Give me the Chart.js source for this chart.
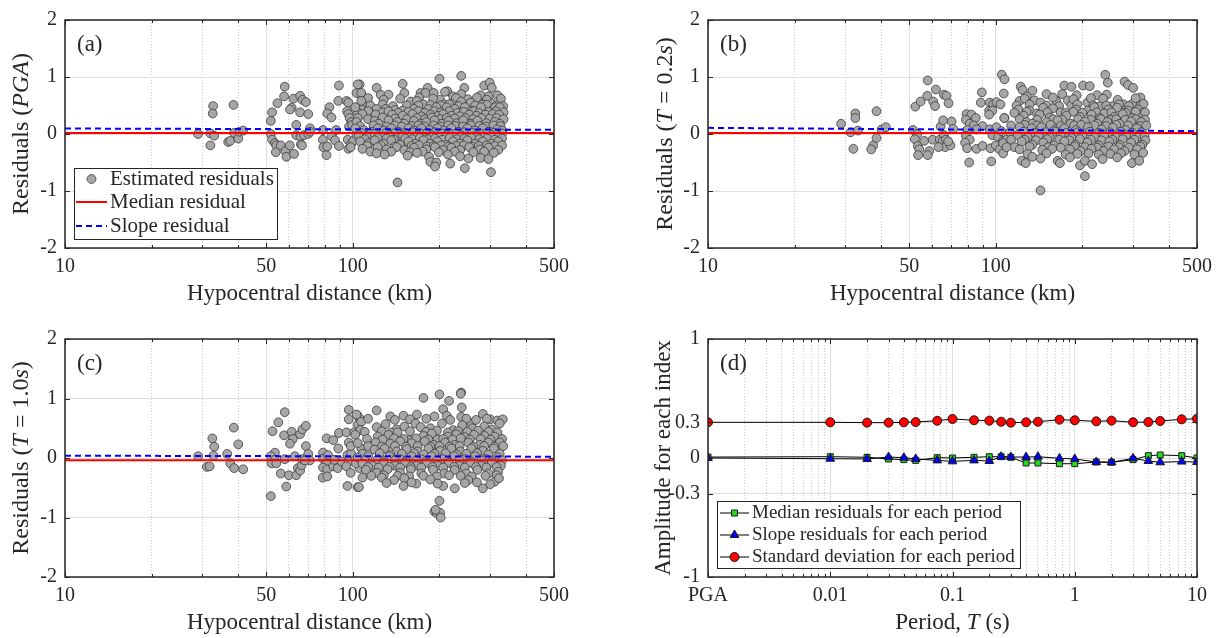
<!DOCTYPE html>
<html>
<head>
<meta charset="utf-8">
<title>Residuals vs hypocentral distance and period</title>
<script src="https://cdn.jsdelivr.net/npm/chart.js@4.4.1/dist/chart.umd.min.js"></script>
<style>
  body { margin: 0; background: #fff; }
  #fig { position: relative; width: 1222px; height: 638px; }
  #fig canvas { position: absolute; left: 0; top: 0; }
</style>
</head>
<body>
<div id="fig">
  <canvas id="panelA" width="1222" height="638"></canvas>
  <canvas id="panelB" width="1222" height="638"></canvas>
  <canvas id="panelC" width="1222" height="638"></canvas>
  <canvas id="panelD" width="1222" height="638"></canvas>
</div>
<script>
// ---- data ----
const distanceRange = [10, 500];
const distanceTicks = [10, 50, 100, 500];
const distanceTickLabels = ['10', '50', '100', '500'];
const distanceMinorTicks = [20, 30, 40, 60, 70, 80, 90, 200, 300, 400];
const residualTicks = [-2, -1, 0, 1, 2];
const residualTickLabels = ['-2', '-1', '0', '1', '2'];

// [hypocentral distance (km), residual]
const residualsPGA = [
  [29.0,0.00],[32.0,0.01],[32.7,0.49],[32.6,0.36],[33.0,-0.03],[32.0,-0.20],[36.9,-0.14],[37.5,-0.12],[38.5,0.51],[38.7,0.02],[40.0,-0.08],[40.4,0.04],[41.6,0.06],
  [58.0,0.83],[57.7,0.66],[54.7,0.54],[52.4,0.38],[51.9,0.23],[51.9,0.00],[52.4,-0.10],[53.6,-0.16],[54.2,-0.20],[54.0,-0.32],[56.2,-0.20],[58.3,-0.30],[58.8,-0.40],
  [60.4,-0.20],[62.5,-0.35],[62.2,0.62],[61.3,0.46],[60.5,0.43],[65.6,0.67],[66.8,0.60],[68.7,0.56],[65.6,0.38],[70.0,0.35],[63.6,0.16],[63.6,-0.02],[65.8,-0.05],
  [66.0,-0.18],[66.6,-0.20],[67.7,-0.02],[70.0,0.00],[71.0,0.10],[71.0,0.04],
  [78.8,0.07],[78.7,-0.10],[79.0,-0.23],[81.0,-0.37],[81.5,-0.22],[82.9,0.47],[81.5,0.36],[84.3,0.29],[84.6,-0.04],[86.7,-0.11],[89.5,0.85],[89.0,0.58],[89.5,-0.21],
  [87.5,0.07],[95.1,0.58],[96.5,0.55],[95.5,0.40],[96.5,0.35],[97.5,0.28],[98.9,0.21],[97.0,0.13],[99.5,0.16],[96.0,-0.10],[98.6,-0.17],[100.5,-0.12],[96.5,-0.26],
  [98.3,-0.23],[103.0,-0.02],[105.6,0.87],[107.0,0.71],[104.0,0.72],[107.5,0.52],[107.0,0.43],[104.0,0.38],
  [104,0.87],[121,0.81],[149,0.88],[182,0.81],[213,0.75],[244,0.81],[286,0.85],[299,0.90],[304,0.81],
  [103,0.72],[107,0.72],[125,0.69],[133,0.69],[151,0.72],[172,0.72],[179,0.72],[191,0.72],[209,0.74],[223,0.66],[238,0.70],[278,0.68],[296,0.66],[318,0.68],
  [113,0.63],[128,0.60],[146,0.62],[170,0.64],[201,0.60],[228,0.63],[251,0.61],[270,0.64],[292,0.60],[327,0.62],
  [107,0.58],[159,0.57],[167,0.58],[176,0.52],[190,0.62],[208,0.52],[220,0.53],[238,0.57],[257,0.55],[283,0.52],[305,0.53],
  [115,0.50],[127,0.52],[138,0.49],[154,0.50],[169,0.50],[186,0.51],[202,0.50],[216,0.52],[233,0.49],[266,0.50],[292,0.51],[316,0.50],[333,0.49],
  [102,0.47],[121,0.44],[130,0.44],[140,0.42],[149,0.41],[163,0.44],[183,0.44],[195,0.47],[212,0.47],[226,0.44],[245,0.47],[259,0.41],[279,0.47],[312,0.47],[324,0.47],
  [113,0.40],[127,0.38],[133,0.40],[144,0.37],[156,0.39],[169,0.40],[178,0.37],[192,0.40],[202,0.38],[216,0.40],[231,0.37],[243,0.39],[263,0.40],[274,0.37],[296,0.39],
  [314,0.40],[334,0.38],
  [108,0.35],[120,0.34],[137,0.34],[149,0.32],[161,0.35],[173,0.31],[186,0.34],[198,0.32],[206,0.35],[220,0.32],[236,0.31],[254,0.34],[269,0.32],[289,0.34],[306,0.35],[322,0.34],
  [104,0.28],[113,0.26],[127,0.29],[140,0.27],[154,0.26],[167,0.28],[178,0.26],[188,0.29],[202,0.26],[212,0.28],[226,0.27],[246,0.28],[262,0.26],[280,0.28],[299,0.27],
  [316,0.28],[334,0.26],
  [103,0.21],[119,0.23],[123,0.18],[133,0.24],[143,0.21],[151,0.18],[163,0.23],[172,0.18],[180,0.21],[192,0.24],[204,0.18],[215,0.23],[230,0.19],[242,0.24],[257,0.18],
  [271,0.23],[291,0.19],[311,0.21],[324,0.18],
  [106,0.14],[118,0.15],[131,0.13],[140,0.15],[148,0.13],[160,0.14],[169,0.15],[178,0.13],[191,0.15],[202,0.13],[214,0.15],[227,0.14],[241,0.13],[258,0.15],[275,0.14],
  [291,0.13],[308,0.15],[326,0.14],
  [102,0.10],[109,0.07],[116,0.04],[122,0.10],[128,0.06],[136,0.10],[144,0.04],[156,0.10],[163,0.06],[173,0.10],[185,0.07],[197,0.10],[207,0.06],[220,0.10],[233,0.04],
  [250,0.10],[265,0.06],[283,0.10],[299,0.04],[318,0.08],[331,0.06],
  [107,0.02],[115,0.01],[131,0.03],[139,0.01],[152,0.02],[162,0.03],[172,0.01],[181,0.02],[193,0.03],[204,0.01],[216,0.02],[229,0.01],[244,0.03],[260,0.02],[277,0.01],
  [294,0.03],[311,0.02],[330,0.01],
  [105,-0.02],[112,-0.04],[119,0.00],[125,-0.05],[134,-0.02],[141,-0.07],[149,-0.02],[158,-0.05],[168,-0.02],[177,-0.07],[188,-0.02],[199,-0.05],[212,-0.02],[225,-0.05],
  [238,-0.02],[252,-0.05],[269,-0.02],[286,-0.05],[304,-0.02],[322,-0.04],
  [110,-0.09],[122,-0.07],[131,-0.08],[139,-0.10],[152,-0.08],[161,-0.09],[171,-0.07],[182,-0.09],[193,-0.08],[205,-0.10],[217,-0.07],[230,-0.09],[244,-0.08],[258,-0.07],
  [275,-0.09],[293,-0.08],[311,-0.10],[330,-0.08],
  [106,-0.13],[114,-0.16],[119,-0.11],[128,-0.17],[136,-0.11],[146,-0.19],[156,-0.13],[165,-0.17],[176,-0.11],[186,-0.17],[197,-0.13],[210,-0.19],[223,-0.13],[236,-0.17],
  [250,-0.11],[266,-0.17],[283,-0.13],[303,-0.17],[320,-0.13],
  [112,-0.21],[125,-0.20],[140,-0.22],[160,-0.21],[170,-0.20],[181,-0.22],[191,-0.21],[203,-0.20],[215,-0.22],[229,-0.21],[243,-0.20],[259,-0.22],[274,-0.21],[292,-0.20],
  [312,-0.21],[330,-0.20],
  [108,-0.26],[122,-0.23],[131,-0.27],[142,-0.23],[151,-0.28],[163,-0.24],[180,-0.27],[193,-0.23],[206,-0.28],[220,-0.24],[236,-0.28],[254,-0.23],[276,-0.27],[296,-0.24],[320,-0.28],
  [115,-0.31],[136,-0.31],[158,-0.32],[175,-0.31],[199,-0.32],[226,-0.31],[262,-0.32],[286,-0.31],[309,-0.33],
  [121,-0.34],[129,-0.36],[167,-0.33],[184,-0.40],[186,-0.49],[195,-0.50],[214,-0.36],[236,-0.39],[252,-0.43],[278,-0.42],[296,-0.44],
  [200,0.97],[238,1.02],[143,-0.85],[302,-0.67],[245,-0.60],[193,-0.57],[218,-0.52],[155,-0.38]
];

const residualsT02 = [
  [29.0,0.18],[31.3,0.03],[32.5,0.36],[32.5,0.28],[32.0,-0.26],[33.2,0.06],[38.5,0.40],[37.5,-0.20],[36.9,-0.27],[38.5,-0.07],[40.1,0.08],[41.5,0.12],
  [52.5,0.48],[54.8,0.57],[58.0,0.94],[57.8,0.67],[61.9,0.78],[60.6,0.57],[61.5,0.49],[66.0,0.69],[67.4,0.67],[68.5,0.54],[51.6,0.07],[53.3,0.00],[52.3,-0.09],
  [53.6,-0.21],[54.2,-0.27],[53.7,-0.37],[56.4,-0.12],[58.7,-0.30],[58.0,-0.37],[60.3,-0.10],[64.3,0.13],[63.9,-0.10],[66.0,-0.02],[65.3,-0.13],[67.0,-0.10],
  [66.7,-0.23],[63.2,-0.23],[65.6,0.24],[70.2,0.22],[71.1,0.09],[69.6,-0.20],[68.3,-0.13],
  [89.4,0.73],[88.7,0.55],[95.3,0.55],[97.9,0.52],[100.5,0.56],[103.8,0.52],[106.6,0.71],[104.9,1.04],[107.2,0.96],[94.8,0.41],[97.3,0.41],[94.8,0.34],[107.2,0.28],
  [79.1,0.35],[82.3,0.34],[78.7,0.25],[81.2,0.18],[85.2,0.28],[83.9,0.15],[89.9,0.14],[79.5,0.07],[85.7,0.08],[78.7,-0.03],[81.2,-0.10],[78.2,-0.15],[79.5,-0.25],
  [85.7,-0.26],[89.9,-0.21],[80.8,-0.50],[95.3,0.08],[97.3,-0.02],[96.4,-0.48],[95.9,-0.25],[100,-0.20],[101.9,-0.05],[106,-0.12],[103.2,-0.27],[106,-0.34],
  [108.9,-0.10],[100.5,0.12],[104.5,0.05],
  [240,1.04],[245,0.90],[280,0.92],[288,0.86],[300,0.81],[173,0.85],[183,0.83],[201,0.85],[212,0.84],[122,0.83],[124,0.77],[134,0.76],[150,0.70],[170,0.70],[191,0.68],
  [225,0.68],[243,0.69],[318,0.64],[128,0.66],[136,0.59],[143,0.55],[121,0.58],[162,0.58],[178,0.59],[183,0.51],[208,0.55],[230,0.49],[255,0.49],[278,0.52],[298,0.53],
  [126,0.62],[158,0.64],[186,0.61],[214,0.63],[236,0.62],[265,0.60],[306,0.63],
  [118,0.50],[131,0.52],[150,0.50],[166,0.49],[192,0.52],[218,0.50],[242,0.50],[268,0.52],[290,0.49],[318,0.50],
  [326,0.53],[120,0.43],[131,0.41],[146,0.46],[158,0.45],[168,0.38],[190,0.43],[209,0.41],[220,0.47],[246,0.43],[264,0.46],[288,0.41],[312,0.43],[324,0.36],
  [116,0.37],[128,0.39],[139,0.36],[151,0.38],[175,0.37],[186,0.39],[200,0.37],[224,0.38],[238,0.36],[252,0.38],[283,0.37],[306,0.39],[330,0.38],
  [125,0.32],[142,0.34],[154,0.29],[176,0.32],[196,0.30],[215,0.34],[230,0.28],[258,0.30],[276,0.35],[298,0.28],[107,0.28],
  [121,0.26],[139,0.25],[158,0.26],[170,0.25],[193,0.26],[214,0.25],[232,0.26],[251,0.25],[262,0.26],[282,0.25],[306,0.26],[330,0.25],
  [128,0.21],[134,0.18],[150,0.21],[164,0.24],[182,0.18],[204,0.22],[225,0.18],[244,0.21],[269,0.18],[295,0.22],[320,0.21],
  [113,0.15],[126,0.16],[139,0.15],[155,0.16],[168,0.14],[187,0.15],[198,0.16],[220,0.15],[242,0.14],[262,0.16],[288,0.15],[318,0.14],[333,0.15],
  [121,0.12],[133,0.10],[144,0.12],[160,0.07],[173,0.10],[190,0.07],[209,0.12],[233,0.08],[255,0.11],[282,0.07],[309,0.10],
  [112,0.03],[125,0.04],[136,0.02],[148,0.03],[161,0.04],[176,0.02],[193,0.03],[212,0.04],[229,0.02],[249,0.03],[272,0.04],[298,0.02],[321,0.03],
  [119,-0.02],[129,-0.06],[141,-0.02],[154,-0.06],[168,-0.02],[183,-0.07],[200,-0.02],[220,-0.06],[238,-0.02],[261,-0.06],[284,-0.02],[312,-0.06],[329,-0.04],
  [113,-0.10],[126,-0.10],[138,-0.11],[151,-0.09],[166,-0.10],[180,-0.11],[196,-0.09],[214,-0.10],[233,-0.11],[254,-0.10],[276,-0.09],[303,-0.10],[331,-0.11],
  [106,-0.16],[123,-0.13],[134,-0.19],[146,-0.15],[159,-0.20],[173,-0.13],[189,-0.19],[208,-0.15],[228,-0.20],[248,-0.13],[270,-0.19],[295,-0.15],[323,-0.19],
  [116,-0.23],[131,-0.22],[152,-0.23],[168,-0.24],[188,-0.22],[204,-0.23],[225,-0.24],[247,-0.22],[268,-0.23],[290,-0.24],[318,-0.22],
  [109,-0.23],[121,-0.27],[145,-0.28],[157,-0.26],[181,-0.27],[197,-0.30],[215,-0.26],[237,-0.30],[258,-0.27],[280,-0.30],[310,-0.27],
  [129,-0.35],[150,-0.34],[175,-0.36],[192,-0.35],[210,-0.34],[228,-0.36],[250,-0.35],[272,-0.34],[303,-0.36],[325,-0.33],
  [134,-0.40],[143,-0.43],[123,-0.47],[127,-0.51],[164,-0.47],[167,-0.51],[181,-0.41],[196,-0.55],[204,-0.47],[216,-0.53],[235,-0.44],[264,-0.41],[297,-0.51],[315,-0.47],
  [204,-0.74],[143,-0.99]
];

const residualsT10 = [
  [29.0,0.03],[31.1,-0.15],[31.8,-0.14],[32.5,0.33],[33.0,0.19],[32.8,0.04],[36.6,0.07],[37.5,-0.09],[38.6,0.51],[38.7,-0.17],[40.0,0.23],[41.6,-0.19],
  [52.6,0.45],[55.1,0.60],[58.0,0.77],[57.7,0.38],[61.3,0.44],[61.9,0.32],[60.5,0.24],[65.6,0.40],[66.8,0.48],[68.7,0.54],[68.7,0.20],[53.6,0.09],[51.9,0.03],
  [53.6,-0.03],[52.2,-0.09],[54.2,-0.09],[51.9,-0.64],[56.2,-0.26],[58.7,-0.48],[60.0,-0.29],[58.0,-0.02],[62.9,0.03],[63.6,-0.29],[64.4,-0.17],[65.6,-0.21],
  [66.4,-0.12],[66.8,-0.02],[70.0,0.07],[70.9,-0.04],[68.1,-0.04],
  [78.8,0.09],[81.1,0.33],[85.5,0.30],[89.5,0.42],[95.1,0.43],[89.0,0.16],[78.8,-0.01],[82.0,0.05],[81.0,-0.09],[78.8,-0.16],[81.5,-0.19],[78.6,-0.33],[81.5,-0.31],
  [85.5,-0.14],[88.6,-0.17],[91.4,-0.06],[86.2,-0.03],[95.8,0.05],[98.6,0.08],[96.8,0.81],[96.8,0.65],[103.6,0.72],[105.4,0.67],[106.2,0.60],[104,0.56],[101,0.43],
  [96.8,0.26],[98.3,0.20],[107,0.16],[96.8,-0.06],[95,-0.14],[98.3,-0.25],[95.8,-0.47],[104,-0.49],[105.4,-0.17],[102.6,-0.09],[108,-0.03],
  [176,1.01],[200,1.07],[238,1.10],[237,1.08],[216,0.96],[121,0.80],[206,0.82],[239,0.85],[283,0.74],
  [103,0.73],[107,0.61],[106,0.47],[102,0.39],[135,0.70],[150,0.71],[167,0.73],[192,0.70],[212,0.71],[238,0.69],[258,0.58],[300,0.65],[318,0.63],
  [113,0.66],[140,0.64],[158,0.65],[180,0.66],[218,0.64],[248,0.66],[268,0.64],[292,0.66],[332,0.65],
  [121,0.52],[130,0.57],[142,0.48],[151,0.53],[165,0.58],[172,0.52],[186,0.50],[204,0.58],[223,0.47],[240,0.55],[260,0.50],[286,0.53],[304,0.48],[324,0.58],
  [110,0.44],[126,0.45],[136,0.43],[158,0.45],[180,0.44],[196,0.46],[214,0.43],[232,0.45],[250,0.44],[272,0.46],[296,0.44],[318,0.43],
  [122,0.36],[133,0.39],[143,0.43],[157,0.30],[176,0.37],[188,0.41],[197,0.31],[214,0.36],[229,0.40],[245,0.35],[264,0.39],[287,0.37],[311,0.36],
  [112,0.32],[127,0.31],[139,0.33],[150,0.32],[166,0.33],[183,0.31],[206,0.32],[222,0.31],[237,0.33],[255,0.31],[278,0.32],[301,0.31],[330,0.32],
  [104,0.25],[120,0.26],[135,0.24],[146,0.28],[160,0.25],[178,0.28],[191,0.22],[209,0.26],[226,0.22],[252,0.26],[276,0.22],[296,0.26],[324,0.26],
  [113,0.20],[126,0.19],[140,0.20],[153,0.19],[168,0.20],[186,0.19],[200,0.20],[217,0.19],[235,0.20],[262,0.19],[286,0.20],[311,0.19],[333,0.20],
  [119,0.14],[129,0.16],[142,0.11],[154,0.15],[168,0.11],[183,0.16],[201,0.12],[220,0.16],[236,0.11],[258,0.16],[283,0.12],[309,0.16],
  [108,0.07],[124,0.08],[135,0.06],[148,0.07],[163,0.08],[176,0.06],[192,0.07],[210,0.08],[229,0.06],[248,0.07],[270,0.08],[296,0.06],[324,0.07],
  [104,0.01],[113,0.03],[122,-0.02],[134,0.03],[146,-0.02],[160,0.03],[173,-0.02],[188,0.03],[206,-0.02],[225,0.03],[245,-0.02],[266,0.03],[291,-0.02],[318,0.01],
  [110,-0.04],[128,-0.05],[140,-0.04],[153,-0.05],[166,-0.04],[180,-0.05],[196,-0.04],[214,-0.05],[235,-0.04],[256,-0.05],[279,-0.04],[304,-0.05],[330,-0.04],
  [108,-0.09],[117,-0.13],[128,-0.08],[140,-0.13],[152,-0.08],[166,-0.13],[181,-0.08],[197,-0.13],[216,-0.08],[234,-0.13],[256,-0.08],[279,-0.13],[304,-0.08],[327,-0.13],
  [113,-0.15],[123,-0.16],[134,-0.15],[146,-0.16],[159,-0.15],[173,-0.16],[189,-0.15],[206,-0.16],[225,-0.15],[245,-0.16],[268,-0.15],[291,-0.16],[316,-0.15],
  [111,-0.20],[121,-0.25],[132,-0.19],[146,-0.25],[159,-0.19],[173,-0.26],[190,-0.20],[208,-0.26],[226,-0.20],[248,-0.26],[271,-0.20],[296,-0.26],[320,-0.23],
  [116,-0.30],[128,-0.29],[143,-0.30],[157,-0.31],[176,-0.30],[196,-0.31],[216,-0.29],[237,-0.30],[259,-0.31],[289,-0.30],[316,-0.29],
  [108,-0.33],[126,-0.33],[139,-0.37],[151,-0.34],[166,-0.43],[186,-0.36],[206,-0.47],[226,-0.51],[252,-0.37],[283,-0.51],[311,-0.40],[322,-0.34],
  [131,-0.42],[160,-0.41],[197,-0.43],[245,-0.42],[270,-0.41],[300,-0.44],
  [105,-0.49],[150,-0.47],
  [200,-0.72],[192,-0.90],[196,-0.93],[201,-0.92],[202,-1.00],[194,-0.87]
];

// fitted lines at the two ends of the distance range
const medianPGA = [0.017, 0.017];
const slopePGA = [0.096, 0.074];
const medianT02 = [0.017, 0.017];
const slopeT02 = [0.108, 0.050];
const medianT10 = [-0.039, -0.039];
const slopeT10 = [0.039, 0.022];

// panel (d): PGA is plotted at 0.001 s
const periods = [0.001, 0.01, 0.02, 0.03, 0.04, 0.05, 0.075, 0.1, 0.15, 0.2, 0.25, 0.3, 0.4, 0.5, 0.75, 1, 1.5, 2, 3, 4, 5, 7.5, 10];
const medianByPeriod = [0.008, 0.011, 0.006, -0.008, -0.014, -0.020, 0.003, 0.000, 0.006, 0.011, 0.011, 0.006, -0.042, -0.042, -0.048, -0.048, -0.034, -0.036, -0.014, 0.020, 0.025, 0.020, 0.000];
const slopeByPeriod = [0.000, -0.006, -0.008, 0.008, 0.003, -0.008, -0.020, -0.028, -0.020, -0.025, 0.011, 0.008, 0.008, 0.011, -0.003, -0.008, -0.034, -0.036, -0.003, -0.025, -0.036, -0.030, -0.034];
const sdByPeriod = [0.300, 0.300, 0.297, 0.297, 0.300, 0.302, 0.313, 0.328, 0.317, 0.314, 0.305, 0.297, 0.300, 0.305, 0.322, 0.317, 0.308, 0.314, 0.300, 0.302, 0.311, 0.325, 0.330];
const periodTicks = [0.001, 0.01, 0.1, 1, 10];
const periodTickLabels = ['PGA', '0.01', '0.1', '1', '10'];
const periodMinorTicks = [0.002, 0.003, 0.004, 0.005, 0.006, 0.007, 0.008, 0.009,
  0.02, 0.03, 0.04, 0.05, 0.06, 0.07, 0.08, 0.09, 0.2, 0.3, 0.4, 0.5, 0.6, 0.7, 0.8, 0.9,
  2, 3, 4, 5, 6, 7, 8, 9];
const amplitudeTicks = [-1, -0.3, 0, 0.3, 1];
const amplitudeTickLabels = ['-1', '-0.3', '0', '0.3', '1'];

// ---- drawing ----
const W = 1222, H = 638;
const ink = '#262626';
const serif = "'Liberation Serif', 'Times New Roman', serif";
const gridColor = '#dedede';

function richText(ctx, parts, size, x, y, vertical) {
  ctx.save();
  ctx.translate(x, y);
  if (vertical) ctx.rotate(-Math.PI / 2);
  const fontOf = p => (p[1] ? 'italic ' : '') + size + 'px ' + serif;
  let total = 0;
  parts.forEach(p => { ctx.font = fontOf(p); total += ctx.measureText(p[0]).width; });
  let cx = -total / 2;
  ctx.fillStyle = ink;
  ctx.textAlign = 'left';
  ctx.textBaseline = 'middle';
  parts.forEach(p => {
    ctx.font = fontOf(p);
    ctx.fillText(p[0], cx, 0);
    cx += ctx.measureText(p[0]).width;
  });
  ctx.restore();
}

function markerPath(ctx, style, x, y, r) {
  ctx.beginPath();
  if (style === 'rect') {
    const s = r * Math.SQRT1_2;
    ctx.rect(x - s, y - s, 2 * s, 2 * s);
  } else if (style === 'triangle') {
    for (let k = 0; k < 3; k++) {
      const a = k * 2 * Math.PI / 3;
      const px = x + Math.sin(a) * r, py = y - Math.cos(a) * r;
      if (k === 0) ctx.moveTo(px, py); else ctx.lineTo(px, py);
    }
    ctx.closePath();
  } else {
    ctx.arc(x, y, r, 0, Math.PI * 2);
  }
}

// box, inner tick marks, axis titles, panel letter and in-axes legend
function decor(cfg) {
  return {
    id: 'decor',
    afterDraw(chart) {
      const { ctx, chartArea: a } = chart;
      const xs = chart.scales.x, ys = chart.scales.y;
      ctx.save();
      ctx.strokeStyle = ink;
      ctx.lineWidth = 1;
      ctx.beginPath();
      const vTick = (v, len) => {
        const p = Math.round(xs.getPixelForValue(v)) + 0.5;
        ctx.moveTo(p, a.bottom); ctx.lineTo(p, a.bottom - len);
        ctx.moveTo(p, a.top); ctx.lineTo(p, a.top + len);
      };
      cfg.xMajor.forEach(v => vTick(v, 5));
      cfg.xMinor.forEach(v => vTick(v, 3));
      cfg.yMajor.forEach(v => {
        const p = Math.round(ys.getPixelForValue(v)) + 0.5;
        ctx.moveTo(a.left, p); ctx.lineTo(a.left + 5, p);
        ctx.moveTo(a.right, p); ctx.lineTo(a.right - 5, p);
      });
      ctx.stroke();
      ctx.lineWidth = 1.5;
      ctx.strokeRect(a.left, a.top, a.right - a.left, a.bottom - a.top);

      if (cfg.legend) {
        const L = cfg.legend;
        ctx.fillStyle = '#fff';
        ctx.fillRect(L.x0, L.y0, L.x1 - L.x0, L.y1 - L.y0);
        ctx.lineWidth = 1;
        ctx.strokeStyle = ink;
        ctx.strokeRect(L.x0 + 0.5, L.y0 + 0.5, L.x1 - L.x0, L.y1 - L.y0);
        L.rows.forEach(([idx, y]) => {
          const ds = chart.data.datasets[idx];
          const mid = (L.lineFrom + L.lineTo) / 2;
          if (ds.type === 'line') {
            ctx.save();
            ctx.beginPath();
            ctx.strokeStyle = ds.borderColor;
            ctx.lineWidth = ds.borderWidth;
            ctx.setLineDash(ds.borderDash || []);
            ctx.moveTo(L.lineFrom, y); ctx.lineTo(L.lineTo, y);
            ctx.stroke();
            ctx.restore();
          }
          if (ds.pointRadius > 0) {
            markerPath(ctx, ds.pointStyle || 'circle', mid, y, ds.pointRadius);
            ctx.fillStyle = ds.pointBackgroundColor || ds.backgroundColor;
            ctx.fill();
            ctx.strokeStyle = ds.pointBorderColor || ds.borderColor;
            ctx.lineWidth = ds.pointBorderWidth || ds.borderWidth;
            ctx.stroke();
          }
          ctx.fillStyle = ink;
          ctx.font = L.size + 'px ' + serif;
          ctx.textAlign = 'left';
          ctx.textBaseline = 'middle';
          ctx.fillText(ds.label, L.text, y);
        });
      }

      ctx.fillStyle = ink;
      ctx.font = '23px ' + serif;
      ctx.textAlign = 'left';
      ctx.textBaseline = 'middle';
      ctx.fillText(cfg.letter, a.left + 12, a.top + 25);
      richText(ctx, cfg.yTitle, cfg.yTitleSize || 23, cfg.yTitleX, (a.top + a.bottom) / 2, true);
      richText(ctx, cfg.xTitle, 23, (a.left + a.right) / 2, a.bottom + 46, false);
      ctx.restore();
    }
  };
}

function logAxis(min, max, ticks, labels) {
  return {
    type: 'logarithmic', min, max, position: 'bottom',
    afterFit: s => { s.height = 55; },
    afterBuildTicks: s => { s.ticks = ticks.map(v => ({ value: v })); },
    ticks: {
      autoSkip: false, maxRotation: 0, padding: 7, color: ink,
      font: { family: serif, size: 20 },
      callback: (v, i) => labels[i]
    },
    grid: { color: gridColor, drawTicks: false },
    border: { display: false }
  };
}

function minorAxis(min, max, ticks) {
  return {
    type: 'logarithmic', min, max, position: 'bottom',
    afterFit: s => { s.height = 0; },
    afterBuildTicks: s => { s.ticks = ticks.map(v => ({ value: v })); },
    ticks: { display: false },
    grid: { color: '#c8c8c8', drawTicks: false },
    border: { display: false, dash: [1, 2] }
  };
}

function linAxis(min, max, ticks, labels) {
  return {
    type: 'linear', min, max,
    afterFit: s => { s.width = 60; },
    afterBuildTicks: s => { s.ticks = ticks.map(v => ({ value: v })); },
    ticks: { padding: 8, color: ink, font: { family: serif, size: 20 }, callback: (v, i) => labels[i] },
    grid: { color: gridColor, drawTicks: false },
    border: { display: false }
  };
}

function layoutFor(p) {
  return { padding: { left: p.left - 60, top: p.top, right: W - p.right, bottom: H - p.bottom - 55 } };
}

const xy = (xs, ys) => xs.map((x, i) => ({ x, y: ys[i] }));
const distanceTitle = [['Hypocentral distance (km)', false]];

function residualPanel(id, plot, points, median, slope, cfg) {
  new Chart(document.getElementById(id), {
    type: 'scatter',
    data: {
      datasets: [
        { type: 'line', label: 'Median residual', data: xy(distanceRange, median),
          borderColor: '#ff0000', borderWidth: 2, pointRadius: 0, order: 1 },
        { type: 'line', label: 'Slope residual', data: xy(distanceRange, slope),
          borderColor: '#0000ff', borderWidth: 2, borderDash: [6, 4], pointRadius: 0, order: 0 },
        { type: 'scatter', label: 'Estimated residuals', data: points.map(p => ({ x: p[0], y: p[1] })),
          backgroundColor: '#a6a6a6', borderColor: '#3a3a3a', borderWidth: 0.8, pointRadius: 4.4, order: 2 }
      ]
    },
    options: {
      responsive: false,
      animation: false,
      events: [],
      layout: layoutFor(plot),
      scales: {
        x: logAxis(distanceRange[0], distanceRange[1], distanceTicks, distanceTickLabels),
        xMinor: minorAxis(distanceRange[0], distanceRange[1], distanceMinorTicks),
        y: linAxis(-2, 2, residualTicks, residualTickLabels)
      },
      plugins: { legend: { display: false }, tooltip: { enabled: false } }
    },
    plugins: [decor(Object.assign({
      xMajor: distanceTicks, xMinor: distanceMinorTicks, yMajor: residualTicks, xTitle: distanceTitle, yTitleSize: 24
    }, cfg))]
  });
}

residualPanel('panelA', { left: 65, top: 12, right: 554, bottom: 248 }, residualsPGA, medianPGA, slopePGA, {
  letter: '(a)', yTitleX: 22,
  yTitle: [['Residuals (', false], ['PGA', true], [')', false]],
  legend: { x0: 74, y0: 168, x1: 277, y1: 239, size: 21, lineFrom: 76, lineTo: 107, text: 110,
    rows: [[2, 179], [0, 202], [1, 226]] }
});

residualPanel('panelB', { left: 708, top: 12, right: 1197, bottom: 248 }, residualsT02, medianT02, slopeT02, {
  letter: '(b)', yTitleX: 666,
  yTitle: [['Residuals (', false], ['T', true], [' = 0.2', false], ['s', true], [')', false]]
});

residualPanel('panelC', { left: 65, top: 339, right: 554, bottom: 577 }, residualsT10, medianT10, slopeT10, {
  letter: '(c)', yTitleX: 22,
  yTitle: [['Residuals (', false], ['T', true], [' = 1.0', false], ['s', true], [')', false]]
});

new Chart(document.getElementById('panelD'), {
  type: 'line',
  data: {
    datasets: [
      { type: 'line', label: 'Median residuals for each period', data: xy(periods, medianByPeriod),
        borderColor: '#000', borderWidth: 1, pointStyle: 'rect', pointRadius: 4.2,
        pointBackgroundColor: '#22dd22', pointBorderColor: '#1a1a1a', pointBorderWidth: 1, order: 2 },
      { type: 'line', label: 'Slope residuals for each period', data: xy(periods, slopeByPeriod),
        borderColor: '#000', borderWidth: 1, pointStyle: 'triangle', pointRadius: 5,
        pointBackgroundColor: '#0000ff', pointBorderColor: '#1a1a1a', pointBorderWidth: 1, order: 1 },
      { type: 'line', label: 'Standard deviation for each period', data: xy(periods, sdByPeriod),
        borderColor: '#000', borderWidth: 1, pointStyle: 'circle', pointRadius: 4.5,
        pointBackgroundColor: '#ff0000', pointBorderColor: '#1a1a1a', pointBorderWidth: 1, order: 0 }
    ]
  },
  options: {
    responsive: false,
    animation: false,
    events: [],
    layout: layoutFor({ left: 708, top: 339, right: 1197, bottom: 577 }),
    scales: {
      x: logAxis(periods[0], periods[periods.length - 1], periodTicks, periodTickLabels),
      xMinor: minorAxis(periods[0], periods[periods.length - 1], periodMinorTicks),
      y: linAxis(-1, 1, amplitudeTicks, amplitudeTickLabels)
    },
    plugins: { legend: { display: false }, tooltip: { enabled: false } }
  },
  plugins: [decor({
    xMajor: periodTicks, xMinor: periodMinorTicks, yMajor: amplitudeTicks,
    letter: '(d)', yTitleX: 664,
    yTitle: [['Amplitude for each index', false]],
    xTitle: [['Period, ', false], ['T', true], [' (s)', false]],
    legend: { x0: 717, y0: 501, x1: 1020, y1: 568, size: 19, lineFrom: 720, lineTo: 749, text: 752,
      rows: [[0, 513], [1, 535], [2, 557]] }
  })]
});
</script>
</body>
</html>
